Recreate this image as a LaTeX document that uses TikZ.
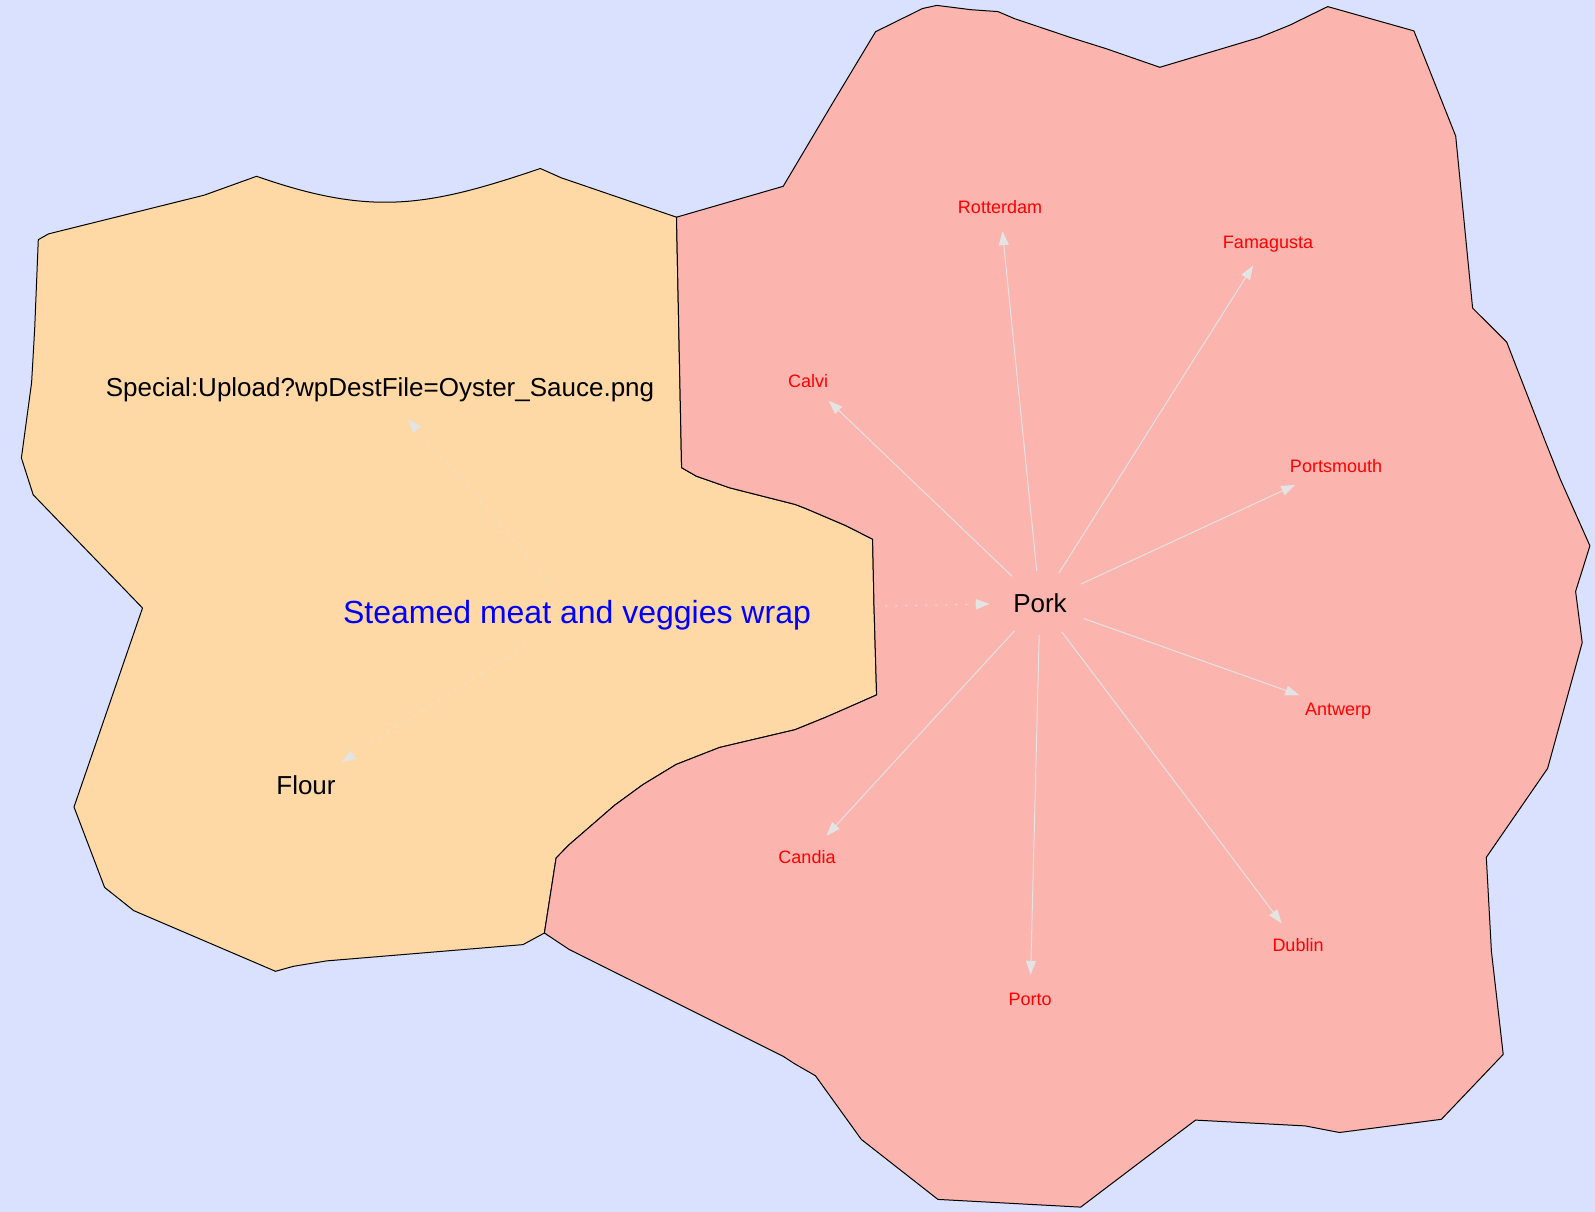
\documentclass[tikz,border=0pt]{standalone}
\usepackage{fontspec}
\setmainfont{Liberation Sans}
\usetikzlibrary{arrows.meta,shapes.geometric}
\definecolor{sea}{HTML}{DAE1FF}
\definecolor{wrapfill}{HTML}{FED9A6}
\definecolor{porkfill}{HTML}{FBB4AE}
\definecolor{edgegray}{HTML}{E4E4E4}

\tikzset{
  region/.style={draw=black, line width=1pt, line join=round},
  lbl/.style={ellipse, inner sep=0pt, minimum width=100pt, minimum height=64pt,
    text height=18.7pt, text depth=0pt, font=\fontsize{26pt}{30pt}\selectfont},
  dish/.style={ellipse, inner xsep=-20pt, inner ysep=0pt, minimum height=68pt, text=blue,
    text height=23pt, text depth=0pt, font=\fontsize{32pt}{36pt}\selectfont},
  city/.style={ellipse, inner sep=0pt, minimum width=70pt, minimum height=48pt, text=red,
    text height=13pt, text depth=0pt, font=\fontsize{18pt}{22pt}\selectfont},
  link/.style={draw=edgegray, line width=1pt, -{Triangle[length=14pt,width=10pt]}},
  dotlink/.style={link, dash pattern=on 2pt off 8pt},
}

\begin{document}
\begin{tikzpicture}[x=1pt,y=-1pt]

\useasboundingbox (0,0) rectangle (1595,1212);
\fill[sea] (0,0) rectangle (1595,1212);

% wrap cluster
\filldraw[region, fill=wrapfill] (38.3,239.7) -- (48.5,233.9) -- (204.1,195.2) -- (256.6,176.3)
  .. controls (370.6,216.2) and (426.3,207.3) .. (540.3,168.5)
  -- (561.2,177.8) -- (676.5,217.2) -- (681.6,467.7)
  -- (696.4,476.2) -- (729.6,487.8) -- (795,504.4) -- (805.2,508.3) -- (846,525.7)
  -- (872.6,539.2) -- (874,606) -- (876.6,694.9) -- (846,708.4) -- (825.6,717.3)
  -- (795,729.7) -- (719.4,747.5) -- (676,764.5) -- (642.9,784.6) -- (614.8,805.1)
  -- (568.9,844.9) -- (556.1,858) -- (544.4,933) -- (523,944.6) -- (326.5,960.9)
  -- (293.4,966.3) -- (275.5,971.3) -- (133.7,910.6) -- (104.6,887.4) -- (74,807)
  -- (142.5,608) -- (33.2,494.8) -- (21.4,458) -- (31.6,382.7) -- (34.7,328.6) -- cycle;

% pork cluster
\filldraw[region, fill=porkfill] (676.5,217.2) -- (783.2,186.3) -- (830.7,106.3) -- (875.6,31.7)
  -- (922.6,8.5) -- (936.8,5.4) -- (971,9.7) -- (998,11.6) -- (1014.4,18.6)
  -- (1070.5,37.5) -- (1106.2,48.7) -- (1159.8,67.3) -- (1259.3,37.5) -- (1289.9,25.1)
  -- (1327.7,6.6) -- (1413.9,30.9) -- (1455.7,136.1) -- (1472.6,308.1) -- (1506.7,342.1)
  -- (1545,440.7) -- (1560.3,479.3) -- (1589.9,545.8) -- (1575.6,591.4) -- (1582.2,642.7)
  -- (1547.6,768.4) -- (1486.3,857.3) -- (1491.4,951.2) -- (1503.2,1054.4) -- (1441.4,1119.3)
  -- (1339.4,1132.5) -- (1305.2,1125.9) -- (1195.5,1120.1) -- (1080.7,1207.1) -- (937.9,1199.4)
  -- (861.3,1139.4) -- (815.4,1075.7) -- (795,1064) -- (783.2,1056.3) -- (568.9,949.3)
  -- (544.4,933) -- (556.1,858) -- (568.9,844.9) -- (614.8,805.1) -- (642.9,784.6)
  -- (676,764.5) -- (719.4,747.5) -- (795,729.7) -- (825.6,717.3) -- (846,708.4)
  -- (876.6,694.9) -- (874,606) -- (872.6,539.2) -- (846,525.7) -- (805.2,508.3)
  -- (795,504.4) -- (729.6,487.8) -- (696.4,476.2) -- (681.6,467.7) -- cycle;

\node[dish] (steamed) at (577,612) {Steamed meat and veggies wrap};
\node[lbl] (special) at (380,387) {Special:Upload?wpDestFile=Oyster\_Sauce.png};
\node[lbl] (flour) at (306,785) {Flour};
\node[lbl] (pork) at (1040,603) {Pork};

\node[city] (rotterdam) at (1000,207) {Rotterdam};
\node[city] (famagusta) at (1268,242) {Famagusta};
\node[city] (calvi) at (808,381) {Calvi};
\node[city] (portsmouth) at (1336,466) {Portsmouth};
\node[city] (antwerp) at (1338,709) {Antwerp};
\node[city] (dublin) at (1298,945) {Dublin};
\node[city] (porto) at (1030,999) {Porto};
\node[city] (candia) at (807,857) {Candia};

\draw[dotlink] (steamed) -- (special);
\draw[dotlink] (steamed) -- (flour);
\draw[dotlink] (steamed) -- (pork);

\foreach \c in {rotterdam,famagusta,calvi,portsmouth,antwerp,dublin,porto,candia}{
\draw[link] (pork) -- (\c);
}

\end{tikzpicture}
\end{document}
